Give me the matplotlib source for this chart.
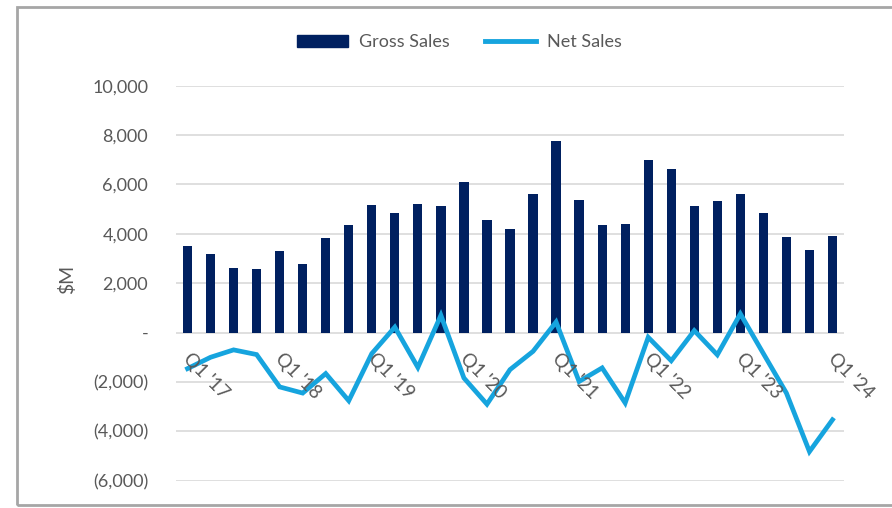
import matplotlib
matplotlib.use('Agg')
import matplotlib.pyplot as plt
from matplotlib.patches import Rectangle
from matplotlib.lines import Line2D

plt.rcParams['font.family'] = ['Lato', 'DejaVu Sans']

quarters = ["Q1 '17", "Q2 '17", "Q3 '17", "Q4 '17",
            "Q1 '18", "Q2 '18", "Q3 '18", "Q4 '18",
            "Q1 '19", "Q2 '19", "Q3 '19", "Q4 '19",
            "Q1 '20", "Q2 '20", "Q3 '20", "Q4 '20",
            "Q1 '21", "Q2 '21", "Q3 '21", "Q4 '21",
            "Q1 '22", "Q2 '22", "Q3 '22", "Q4 '22",
            "Q1 '23", "Q2 '23", "Q3 '23", "Q4 '23",
            "Q1 '24"]
gross_sales = [3500, 3200, 2620, 2580, 3300, 2790, 3820, 4360,
               5160, 4860, 5210, 5120, 6110, 4580, 4190, 5620,
               7770, 5390, 4350, 4400, 7000, 6610, 5120, 5310,
               5610, 4850, 3860, 3340, 3910]
net_sales = [-1460, -1000, -700, -890, -2200, -2450, -1660, -2760,
             -850, 220, -1410, 700, -1840, -2900, -1500, -760,
             430, -1980, -1430, -2850, -190, -1140, 80, -900,
             760, -850, -2450, -4820, -3530]
shown_labels = ["Q1 '17", "Q1 '18", "Q1 '19", "Q1 '20",
                "Q1 '21", "Q1 '22", "Q1 '23", "Q1 '24"]
yticks = [-6000, -4000, -2000, 0, 2000, 4000, 6000, 8000, 10000]

navy = '#002060'
sky = '#16A4DE'
grey_txt = '#595959'

fig = plt.figure(figsize=(8.92, 5.08), dpi=100)
ax = fig.add_axes([0.1973, 0.0537, 0.7489, 0.7776])

x = list(range(len(quarters)))
ax.bar(x, gross_sales, width=0.4, color=navy, zorder=2)
ax.plot(x, net_sales, color=sky, lw=3.4, solid_joinstyle='miter', zorder=3)

ax.set_xlim(-0.5, len(quarters) - 0.5)
ax.set_ylim(-6000, 10000)
ax.set_yticks(yticks)
ax.set_yticklabels([('-' if v == 0 else (f'({abs(v):,})' if v < 0 else f'{v:,}')) for v in yticks])
ax.tick_params(axis='y', length=0, pad=20, labelsize=13, labelcolor=grey_txt)
ax.set_xticks([])
ax.grid(axis='y', color='#D9D9D9', lw=1.2, zorder=0)
for s in ax.spines.values():
    s.set_visible(False)

for i, q in enumerate(quarters):
    if q in shown_labels:
        ax.text(i - 0.05, -950, q, rotation=-45, rotation_mode='anchor',
                ha='left', va='center', fontsize=13.5, color=grey_txt, zorder=4)

ax.set_ylabel('$M', fontsize=14, color=grey_txt, labelpad=8)
ax.yaxis.set_label_coords(-0.15, 0.51)

handles = [Rectangle((0, 0), 1, 1, color=navy),
           Line2D([0], [0], color=sky, lw=3.5)]
fig.legend(handles, ['Gross Sales', 'Net Sales'], loc='center',
           bbox_to_anchor=(0.515, 0.917), ncol=2, frameon=False,
           fontsize=13, labelcolor=grey_txt, handlelength=2.8,
           handleheight=0.7, columnspacing=2.0, handletextpad=0.6)

fig.patches.append(Rectangle((17 / 892, 3 / 508), 1.0, 498 / 508,
                             transform=fig.transFigure, fill=False,
                             edgecolor='#A6A6A6', lw=2.0))

fig.savefig('out.png', dpi=100)
